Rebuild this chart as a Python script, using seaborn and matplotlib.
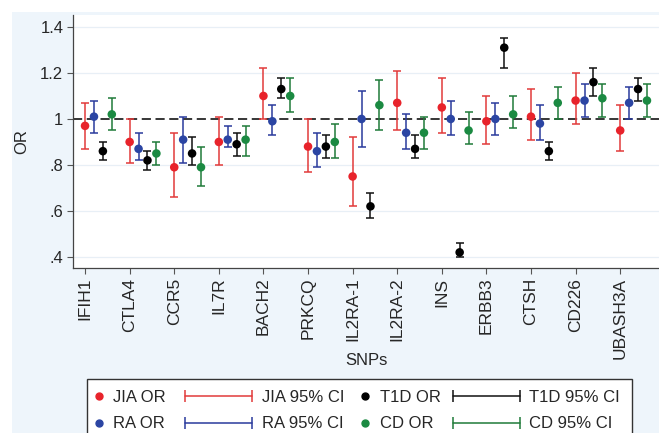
import numpy as np
import pandas as pd
import seaborn as sns
import matplotlib.pyplot as plt
from matplotlib.lines import Line2D
from matplotlib.patches import Rectangle
from matplotlib.legend_handler import HandlerLine2D

# values
snps = ["IFIH1", "CTLA4", "CCR5", "IL7R", "BACH2", "PRKCQ", "IL2RA-1",
        "IL2RA-2", "INS", "ERBB3", "CTSH", "CD226", "UBASH3A"]

jia_or = [0.97, 0.90, 0.79, 0.90, 1.10, 0.88, 0.75, 1.07, 1.05, 0.99, 1.01, 1.08, 0.95]
jia_lo = [0.87, 0.81, 0.66, 0.80, 1.00, 0.77, 0.62, 0.95, 0.94, 0.89, 0.91, 0.98, 0.86]
jia_hi = [1.07, 1.00, 0.94, 1.01, 1.22, 1.00, 0.92, 1.21, 1.18, 1.10, 1.13, 1.20, 1.06]

ra_or = [1.01, 0.87, 0.91, 0.91, 0.99, 0.86, 1.00, 0.94, 1.00, 1.00, 0.98, 1.08, 1.07]
ra_lo = [0.94, 0.82, 0.81, 0.88, 0.93, 0.79, 0.88, 0.87, 0.93, 0.93, 0.91, 1.01, 1.00]
ra_hi = [1.08, 0.94, 1.01, 0.97, 1.06, 0.94, 1.12, 1.02, 1.08, 1.07, 1.06, 1.15, 1.14]

t1d_or = [0.86, 0.82, 0.85, 0.89, 1.13, 0.88, 0.62, 0.87, 0.42, 1.31, 0.86, 1.16, 1.13]
t1d_lo = [0.82, 0.78, 0.80, 0.84, 1.09, 0.83, 0.57, 0.83, 0.40, 1.22, 0.82, 1.10, 1.08]
t1d_hi = [0.90, 0.86, 0.92, 0.94, 1.18, 0.93, 0.68, 0.93, 0.46, 1.35, 0.90, 1.22, 1.18]

cd_or = [1.02, 0.85, 0.79, 0.91, 1.10, 0.90, 1.06, 0.94, 0.95, 1.02, 1.07, 1.09, 1.08]
cd_lo = [0.95, 0.80, 0.71, 0.84, 1.03, 0.83, 0.95, 0.87, 0.89, 0.96, 1.00, 1.01, 1.01]
cd_hi = [1.09, 0.90, 0.88, 0.97, 1.18, 0.98, 1.17, 1.01, 1.03, 1.10, 1.14, 1.15, 1.15]

studies = ["JIA", "RA", "T1D", "CD"]
dot_colors = {"JIA": "#e8232b", "RA": "#2b45a3", "T1D": "#000000", "CD": "#1b8a42"}
bar_colors = {"JIA": "#e23a3a", "RA": "#2a3a9c", "T1D": "#111111", "CD": "#1f7a39"}
offsets = {"JIA": 0.0, "RA": 0.2, "T1D": 0.4, "CD": 0.6}

series = {
    "JIA": (jia_or, jia_lo, jia_hi),
    "RA": (ra_or, ra_lo, ra_hi),
    "T1D": (t1d_or, t1d_lo, t1d_hi),
    "CD": (cd_or, cd_lo, cd_hi),
}

rows = []
for st in studies:
    o, lo, hi = series[st]
    for i, snp in enumerate(snps):
        rows.append({"snp": snp, "study": st, "pos": i + offsets[st],
                     "OR": o[i], "lo": lo[i], "hi": hi[i]})
df = pd.DataFrame(rows)

sns.set_style("white")
plt.rcParams["font.family"] = ["Liberation Sans", "DejaVu Sans"]

W, H = 659, 433
fig = plt.figure(figsize=(W / 100, H / 100), dpi=100)
fig.patch.set_facecolor("white")
fig.patches.append(Rectangle((12 / W, 0), 1, (H - 12) / H, transform=fig.transFigure,
                             facecolor="#eef5fb", edgecolor="none", zorder=-5))

ax = fig.add_axes([73 / W, 1 - 268 / H, (W - 73) / W, (268 - 15) / H])
ax.set_zorder(3)
ax.set_facecolor("white")

for yv in [0.4, 0.6, 0.8, 1.2, 1.4]:
    ax.axhline(yv, color="#e8eff6", lw=0.9, zorder=0)
ax.axhline(1.0, color="black", lw=1.1, ls=(0, (6, 3)), zorder=1)

for st in studies:
    d = df[df["study"] == st]
    ax.errorbar(d["pos"], d["OR"], yerr=[d["OR"] - d["lo"], d["hi"] - d["OR"]],
                fmt="none", ecolor=bar_colors[st], elinewidth=1.1,
                capsize=3.2, capthick=1.1, zorder=2)

sns.scatterplot(data=df, x="pos", y="OR", hue="study", palette=dot_colors,
                s=38, edgecolor="none", legend=False, zorder=3, ax=ax)

ax.set_xlim(-0.27, 12.87)
ax.set_ylim(0.352, 1.452)
ax.set_xticks(np.arange(len(snps)))
ax.set_xticklabels(snps, rotation=90, fontsize=12.5)
ax.set_yticks([0.4, 0.6, 0.8, 1.0, 1.2, 1.4])
ax.set_yticklabels([".4", ".6", ".8", "1", "1.2", "1.4"], fontsize=12)
ax.tick_params(axis="both", direction="out", length=4, width=0.8, color="#555555",
               bottom=True, left=True, pad=3)
ax.set_xlabel("SNPs", fontsize=12)
ax.xaxis.set_label_coords(0.5, -0.335)
ax.set_ylabel("OR", fontsize=12, labelpad=8)
for side in ["top", "right"]:
    ax.spines[side].set_visible(False)
for side in ["left", "bottom"]:
    ax.spines[side].set_color("#444444")
    ax.spines[side].set_linewidth(0.9)

# legend: frame plus four columns
fig.patches.append(Rectangle((87 / W, 1 - 445 / H), (632 - 87) / W, (445 - 379) / H,
                             transform=fig.transFigure, facecolor="white",
                             edgecolor="#333333", lw=1.0, zorder=1))


def dot(st):
    return Line2D([], [], color=dot_colors[st], marker="o", ls="none", markersize=5)


def bar(st):
    return Line2D([], [], color=bar_colors[st], marker="|", markersize=8,
                  markeredgewidth=1.1, lw=1.1)


columns = [
    (93, [dot("JIA"), dot("RA")], ["JIA OR", "RA OR"], 0.7, 0.5, 1),
    (185, [bar("JIA"), bar("RA")], ["JIA 95% CI", "RA 95% CI"], 4.0, 0.6, 2),
    (359, [dot("T1D"), dot("CD")], ["T1D OR", "CD OR"], 0.7, 0.55, 1),
    (453, [bar("T1D"), bar("CD")], ["T1D 95% CI", "CD 95% CI"], 4.0, 0.55, 2),
]
for x0, hs, labs, hl, tp, npts in columns:
    leg = fig.legend(hs, labs, loc="upper left", bbox_to_anchor=(x0 / W, 1 - 390 / H),
                     frameon=False, fontsize=12, handlelength=hl, handletextpad=tp,
                     borderpad=0, borderaxespad=0, labelspacing=0.68,
                     handler_map={Line2D: HandlerLine2D(numpoints=npts, marker_pad=0)})
    leg.set_zorder(2)

fig.savefig("out.png", dpi=100)
